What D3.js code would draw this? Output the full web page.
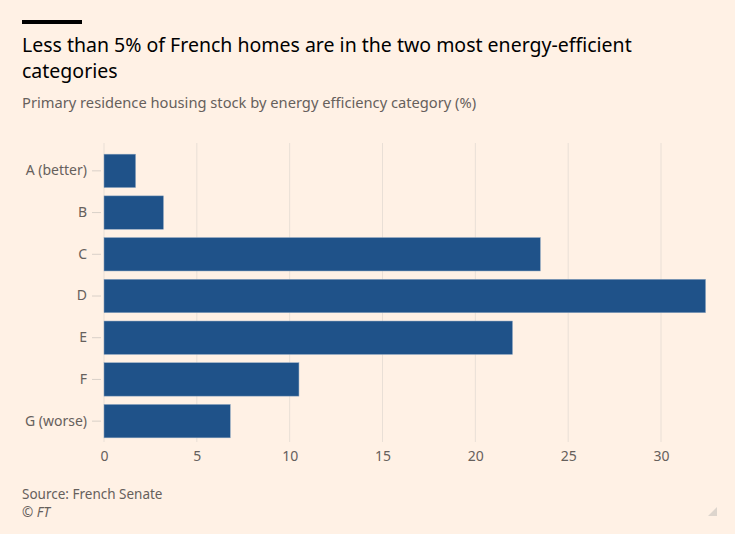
<!DOCTYPE html>
<html>
<head>
<meta charset="utf-8">
<script src="https://cdn.jsdelivr.net/npm/d3@7"></script>
<style>
  body { margin: 0; background: #fff1e5; }
  svg { display: block; font-family: "Noto Sans", sans-serif; }
</style>
</head>
<body>
<svg id="chart" width="735" height="534"></svg>
<script>
var categories = ['A (better)', 'B', 'C', 'D', 'E', 'F', 'G (worse)'];
var shares = [1.7, 3.2, 23.5, 32.4, 22.0, 10.5, 6.8];
var xTicks = [0, 5, 10, 15, 20, 25, 30];

var svg = d3.select('#chart');
var W = 735, H = 534;

svg.append('rect').attr('width', W).attr('height', H).attr('fill', '#fff1e5');

// header
svg.append('rect').attr('x', 22).attr('y', 20).attr('width', 60).attr('height', 4).attr('fill', '#000');
svg.append('text').attr('x', 22).attr('y', 52)
    .attr('font-size', 19.5).attr('fill', '#000')
    .text('Less than 5% of French homes are in the two most energy-efficient');
svg.append('text').attr('x', 22).attr('y', 78)
    .attr('font-size', 19.5).attr('fill', '#000')
    .text('categories');
svg.append('text').attr('x', 22).attr('y', 108)
    .attr('font-size', 14.7).attr('fill', '#66605c')
    .text('Primary residence housing stock by energy efficiency category (%)');

var x = d3.scaleLinear().domain([0, 30]).range([104, 661]);
var y = d3.scaleBand().domain(categories).range([150, 442]).paddingInner(0.2).paddingOuter(0.1);

// grid
svg.append('g').selectAll('line').data(xTicks).enter().append('line')
    .attr('x1', function(d) { return x(d); }).attr('x2', function(d) { return x(d); })
    .attr('y1', 143).attr('y2', 442)
    .attr('stroke', '#e9dfd6').attr('stroke-width', 1);

// bars
svg.append('g').selectAll('rect').data(shares).enter().append('rect')
    .attr('x', x(0))
    .attr('y', function(d, i) { return y(categories[i]); })
    .attr('width', function(d) { return x(d) - x(0); })
    .attr('height', y.bandwidth())
    .attr('fill', '#1f5289')
    .attr('stroke', '#8aa3bf').attr('stroke-width', 0.5);

// y axis
var yAxis = svg.append('g').attr('transform', 'translate(' + (x(0) - 3) + ',0)')
    .call(d3.axisLeft(y).tickSize(9).tickPadding(5));
yAxis.select('.domain').remove();
yAxis.selectAll('line').attr('stroke', '#d9d0c8');
yAxis.selectAll('text').attr('font-size', 14).attr('fill', '#66605c').attr('font-family', '"Noto Sans", sans-serif');

// x axis
var xAxis = svg.append('g').attr('transform', 'translate(0,442)')
    .call(d3.axisBottom(x).tickValues(xTicks).tickSize(0).tickPadding(9));
xAxis.select('.domain').remove();
xAxis.selectAll('text').attr('font-size', 14).attr('fill', '#66605c').attr('font-family', '"Noto Sans", sans-serif');

// footer
svg.append('text').attr('x', 22).attr('y', 499)
    .attr('font-size', 13.5).attr('fill', '#66605c').text('Source: French Senate');
svg.append('text').attr('x', 22).attr('y', 517)
    .attr('font-size', 13.5).attr('font-style', 'italic').attr('fill', '#66605c').text('\u00a9 FT');
svg.append('path').attr('d', 'M717,507 L717,516 L708,516 Z').attr('fill', '#ddd5cd');
</script>
</body>
</html>
